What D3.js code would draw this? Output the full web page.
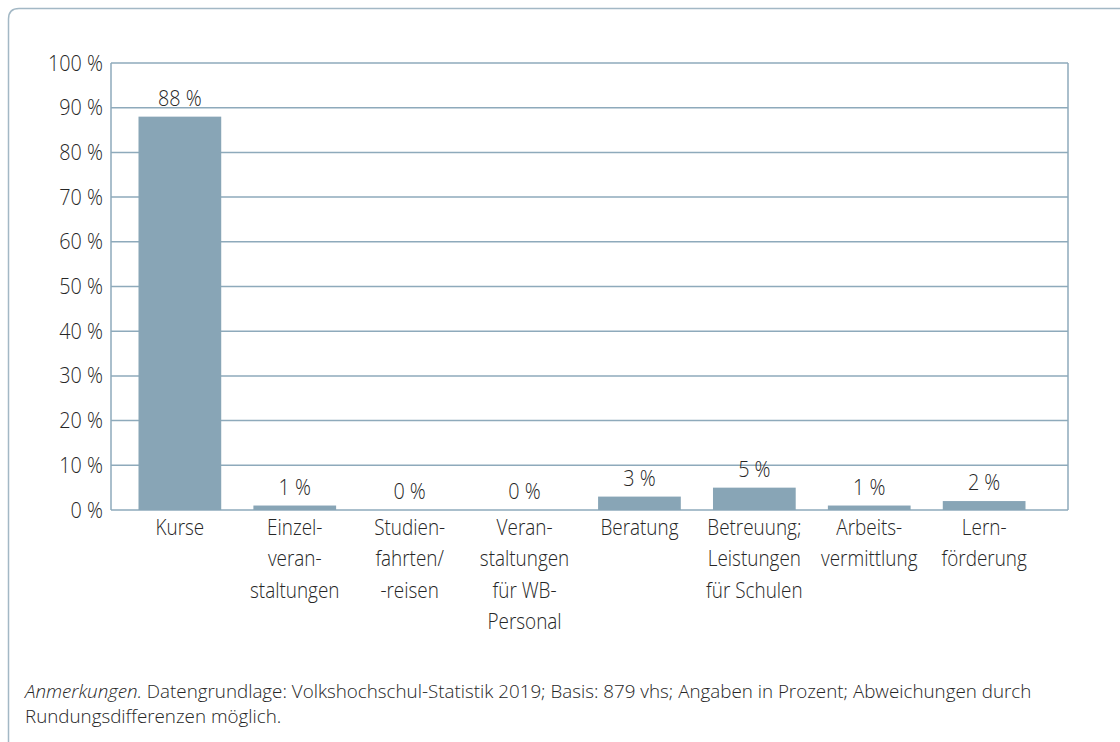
<!DOCTYPE html>
<html>
<head>
<meta charset="utf-8">
<script src="https://cdn.jsdelivr.net/npm/d3@7"></script>
<style>
  html, body { margin: 0; padding: 0; background: #fff; }
  svg { display: block; }
  text { font-family: "Open Sans", "Noto Sans", "DejaVu Sans", sans-serif; font-weight: 300; fill: #262626; }
</style>
</head>
<body>
<svg id="chart" width="1120" height="742"></svg>
<script>
const categories = [
  "Kurse",
  "Einzel-|veran-|staltungen",
  "Studien-|fahrten/|-reisen",
  "Veran-|staltungen|für WB-|Personal",
  "Beratung",
  "Betreuung;|Leistungen|für Schulen",
  "Arbeits-|vermittlung",
  "Lern-|förderung"
];
const values = [88, 1, 0, 0, 3, 5, 1, 2];
const yTicks = [0, 10, 20, 30, 40, 50, 60, 70, 80, 90, 100];
const noteItalic = "Anmerkungen.";
const noteLine1 = " Datengrundlage: Volkshochschul-Statistik 2019; Basis: 879 vhs; Angaben in Prozent; Abweichungen durch";
const noteLine2 = "Rundungsdifferenzen möglich.";

const svg = d3.select("#chart");
const lineColor = "#8eaabb";
const barColor = "#88a5b6";
const squeeze = 0.86;

function condense(sel, s) {
  sel.attr("transform", function () {
    const x = +this.getAttribute("x") || 0;
    return `translate(${x},0) scale(${s},1) translate(${-x},0)`;
  });
}

// card frame
svg.append("path")
  .attr("d", "M8.5,742 L8.5,19 Q8.5,8.5 19,8.5 L1120,8.5")
  .attr("fill", "none").attr("stroke", "#a3b8c5").attr("stroke-width", 1.5);

const plot = { left: 111, right: 1068, top: 63, bottom: 510 };
const y = d3.scaleLinear().domain([0, 100]).range([plot.bottom, plot.top]);
const x = d3.scaleBand().domain(categories).range([138.5, 1025.5]).paddingInner(0.28).paddingOuter(0);

// gridlines
svg.append("g").selectAll("line").data(yTicks).join("line")
  .attr("x1", plot.left).attr("x2", plot.right)
  .attr("y1", d => y(d)).attr("y2", d => y(d))
  .attr("stroke", lineColor).attr("stroke-width", 1.5);

// plot box sides
svg.append("line").attr("x1", plot.left).attr("x2", plot.left).attr("y1", plot.top).attr("y2", plot.bottom)
  .attr("stroke", lineColor).attr("stroke-width", 1.5);
svg.append("line").attr("x1", plot.right).attr("x2", plot.right).attr("y1", plot.top).attr("y2", plot.bottom)
  .attr("stroke", lineColor).attr("stroke-width", 1.5);

// y axis labels
const yAxis = d3.axisLeft(y).tickValues(yTicks).tickFormat(d => d + " %").tickSize(0).tickPadding(8);
const ya = svg.append("g").attr("transform", `translate(${plot.left},0)`).call(yAxis);
ya.select(".domain").remove();
ya.selectAll("text")
  .attr("fill", "#262626")
  .style("font-size", "22px")
  .style("font-family", '"Open Sans", "Noto Sans", sans-serif')
  .call(condense, 0.9);

// bars
svg.append("g").selectAll("rect").data(values).join("rect")
  .attr("x", (d, i) => x(categories[i]))
  .attr("width", x.bandwidth())
  .attr("y", d => y(d))
  .attr("height", d => y(0) - y(d))
  .attr("fill", barColor);

// value labels
svg.append("g").selectAll("text").data(values).join("text")
  .attr("x", (d, i) => x(categories[i]) + x.bandwidth() / 2)
  .attr("y", d => y(d) - 11)
  .attr("text-anchor", "middle")
  .style("font-size", "22px")
  .text(d => d + " %")
  .call(condense, 0.9);

// category labels
const cl = svg.append("g").selectAll("g").data(categories).join("g")
  .attr("transform", d => `translate(${x(d) + x.bandwidth() / 2},0)`);
const clText = cl.append("text")
  .attr("text-anchor", "middle")
  .style("font-size", "22px")
  .attr("transform", `scale(${squeeze},1)`);
clText.selectAll("tspan").data(d => d.split("|")).join("tspan")
  .attr("x", 0)
  .attr("y", (d, i) => 535 + i * 31.5)
  .text(d => d);

// note
const note = svg.append("text").attr("x", 25).attr("y", 698).style("font-size", "18.8px");
note.append("tspan").style("font-style", "italic").text(noteItalic);
note.append("tspan").text(noteLine1);
svg.append("text").attr("x", 25).attr("y", 723).style("font-size", "18.8px").text(noteLine2);
</script>
</body>
</html>
